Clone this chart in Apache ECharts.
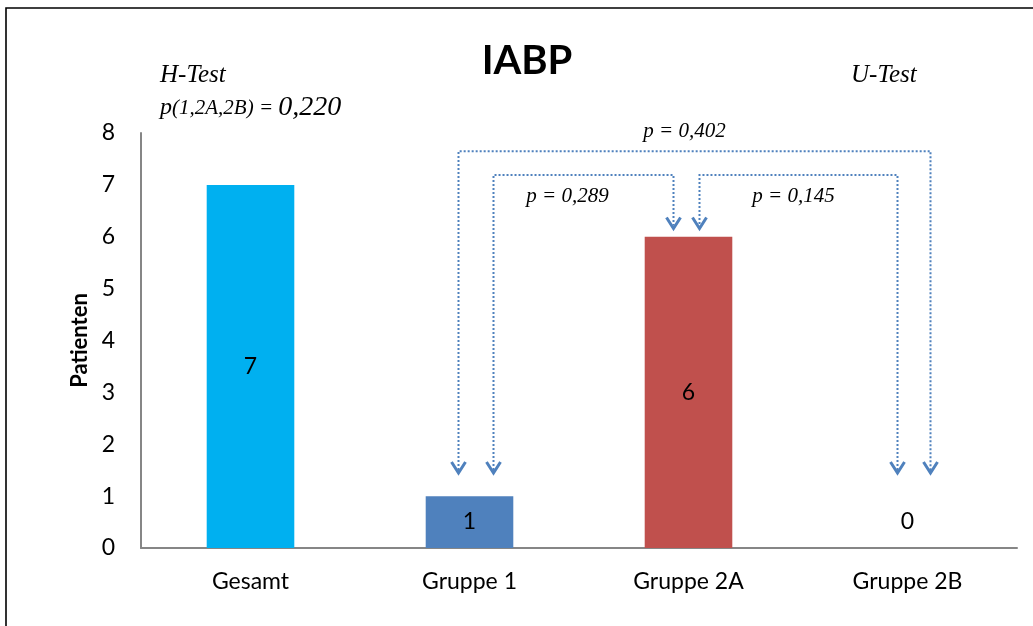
<!DOCTYPE html>
<html>
<head>
<meta charset="utf-8">
<script src="https://cdn.jsdelivr.net/npm/echarts@6/dist/echarts.min.js"></script>
<style>
  html, body { margin: 0; padding: 0; background: #ffffff; }
  #chart { width: 1033px; height: 626px; }
</style>
</head>
<body>
<div id="chart"></div>
<script>
// Patients with IABP per group
const categories = ['Gesamt', 'Gruppe 1', 'Gruppe 2A', 'Gruppe 2B'];
const patients = [7, 1, 6, 0];
const barColors = ['#00B0F0', '#4F81BD', '#C0504D', '#9BBB59'];

// Pairwise U-tests drawn as dotted brackets
const comparisons = [
  { from: 'Gruppe 1', to: 'Gruppe 2A', p: '0,289' },
  { from: 'Gruppe 2B', to: 'Gruppe 2A', p: '0,145' },
  { from: 'Gruppe 1', to: 'Gruppe 2B', p: '0,402' }
];

// Kruskal-Wallis H-test over the three groups
const hTestGroups = '(1,2A,2B)';
const hTestP = '0,220';

// Bracket geometry: level / tips in axis units, shifts in pixels
const bracketLayout = [
  { level: 7.19, fromShift: 24, toShift: -15, fromTip: 1.446, toTip: 6.16, labelShift: -16, labelDy: 21 },
  { level: 7.19, fromShift: -10, toShift: 11, fromTip: 1.446, toTip: 6.16, labelShift: -5, labelDy: 21 },
  { level: 7.65, fromShift: -11, toShift: 23, fromTip: 1.446, toTip: 1.446, labelShift: -10, labelDy: -20 }
];

const SANS = 'Lato, "Open Sans", sans-serif';
const SERIF = '"Liberation Serif", "DejaVu Serif", serif';
const ARROW = '#4F81BD';

function chevron(x, y) {
  return {
    type: 'polyline',
    shape: { points: [[x - 7, y - 11], [x, y], [x + 7, y - 11]] },
    style: { stroke: ARROW, lineWidth: 3, fill: null, lineJoin: 'miter' }
  };
}

function renderBracket(params, api) {
  const c = comparisons[params.dataIndex];
  const L = bracketLayout[params.dataIndex];
  const fi = categories.indexOf(c.from);
  const ti = categories.indexOf(c.to);
  const fx = api.coord([fi, 0])[0] + L.fromShift;
  const tx = api.coord([ti, 0])[0] + L.toShift;
  const yTop = api.coord([0, L.level])[1];
  const yF = api.coord([0, L.fromTip])[1];
  const yT = api.coord([0, L.toTip])[1];
  return {
    type: 'group',
    children: [
      {
        type: 'polyline',
        shape: { points: [[fx, yF - 3], [fx, yTop], [tx, yTop], [tx, yT - 3]] },
        style: { stroke: ARROW, lineWidth: 2, lineDash: [2, 2], fill: null }
      },
      chevron(fx, yF),
      chevron(tx, yT),
      {
        type: 'text',
        style: {
          text: 'p = ' + c.p,
          x: (fx + tx) / 2 + L.labelShift,
          y: yTop + L.labelDy,
          align: 'center',
          verticalAlign: 'middle',
          font: 'italic 21px ' + SERIF,
          fill: '#000'
        }
      }
    ]
  };
}

const chart = echarts.init(document.getElementById('chart'), null, { renderer: 'canvas' });

chart.setOption({
  backgroundColor: '#ffffff',
  animation: false,
  title: {
    text: 'IABP',
    left: 522,
    top: 36,
    textAlign: 'center',
    textStyle: { fontFamily: SANS, fontWeight: 'bold', fontSize: 40, color: '#000' }
  },
  grid: { left: 141, right: 16, top: 133, bottom: 78 },
  xAxis: {
    type: 'category',
    data: categories,
    axisLine: { lineStyle: { color: '#868686', width: 2 } },
    axisTick: { show: false },
    axisLabel: { color: '#000', fontFamily: SANS, fontSize: 23, margin: 22 }
  },
  yAxis: {
    type: 'value',
    min: 0,
    max: 8,
    interval: 1,
    name: 'Patienten',
    nameLocation: 'middle',
    nameGap: 50,
    nameTextStyle: { color: '#000', fontFamily: SANS, fontWeight: 'bold', fontSize: 22 },
    axisLine: { show: true, lineStyle: { color: '#868686', width: 2 } },
    axisTick: { show: false },
    splitLine: { show: false },
    axisLabel: { color: '#000', fontFamily: SANS, fontSize: 23, margin: 26 }
  },
  series: [
    {
      type: 'bar',
      barWidth: '40%',
      data: patients.map((v, i) => ({
        value: v,
        itemStyle: { color: barColors[i] },
        label: v === 0 ? { position: 'top', distance: 15 } : undefined
      })),
      label: {
        show: true,
        position: 'inside',
        color: '#000',
        fontFamily: SANS,
        fontSize: 23
      }
    },
    {
      type: 'custom',
      renderItem: renderBracket,
      data: comparisons.map((c, i) => [i, 0]),
      silent: true,
      z: 5
    }
  ],
  graphic: [
    {
      type: 'rect',
      shape: { x: 6, y: 8, width: 1200, height: 800 },
      style: { stroke: '#000', lineWidth: 1.6, fill: null },
      silent: true
    },
    {
      type: 'text',
      style: {
        text: 'H-Test',
        x: 160, y: 75,
        verticalAlign: 'middle',
        font: 'italic 25px ' + SERIF,
        fill: '#000'
      }
    },
    {
      type: 'text',
      style: {
        text: '{p|p}{g|' + hTestGroups + ' = }{v|' + hTestP + '}',
        x: 160, y: 108,
        verticalAlign: 'middle',
        rich: {
          p: { font: 'italic 24px ' + SERIF, fill: '#000' },
          g: { font: 'italic 21px ' + SERIF, fill: '#000' },
          v: { font: 'italic 28px ' + SERIF, fill: '#000' }
        }
      }
    },
    {
      type: 'text',
      style: {
        text: 'U-Test',
        x: 851, y: 75,
        verticalAlign: 'middle',
        font: 'italic 25px ' + SERIF,
        fill: '#000'
      }
    }
  ]
});
</script>
</body>
</html>
